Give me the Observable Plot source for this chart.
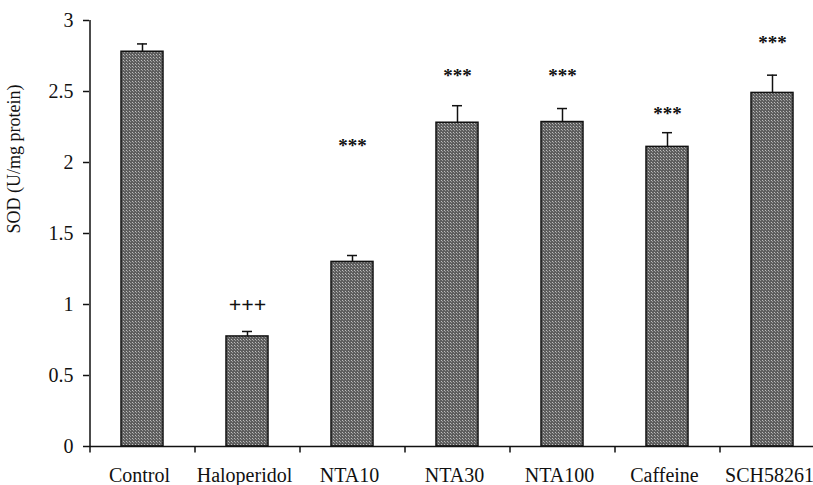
<!DOCTYPE html>
<html>
<head>
<meta charset="utf-8">
<script src="https://cdn.jsdelivr.net/npm/d3@7"></script>
<script src="https://cdn.jsdelivr.net/npm/@observablehq/plot@0.6"></script>
<style>
  html, body { margin: 0; padding: 0; background: #fff; }
</style>
</head>
<body>
<div id="chart"></div>
<script>
const categories = ["Control", "Haloperidol", "NTA10", "NTA30", "NTA100", "Caffeine", "SCH58261"];
const sodMean = [2.78, 0.775, 1.30, 2.28, 2.285, 2.11, 2.49];
const sodSem = [0.055, 0.035, 0.045, 0.12, 0.095, 0.10, 0.125];
const sigLabels = ["", "+++", "***", "***", "***", "***", "***"];
const sigY = [null, 1.0, 2.12, 2.61, 2.61, 2.34, 2.84];
const yTicks = [0, 0.5, 1, 1.5, 2, 2.5, 3];
const yLabel = "SOD (U/mg protein)";

const data = categories.map((c, i) => ({cat: c, mean: sodMean[i], sem: sodSem[i], sig: sigLabels[i], sigY: sigY[i]}));
const sigData = data.filter(d => d.sig);

const svg = Plot.plot({
  width: 813,
  height: 485,
  marginLeft: 89,
  marginRight: 0,
  marginTop: 20,
  marginBottom: 39,
  style: {fontFamily: "'Liberation Serif', 'Times New Roman', serif", fontSize: "20px", color: "#111", background: "#fff", overflow: "visible"},
  x: {domain: categories, range: [89, 824], paddingInner: 0.6, paddingOuter: 0.3},
  y: {domain: [0, 3], range: [446, 20]},
  marks: [
    Plot.barY(data, {x: "cat", y: "mean", fill: "url(#dots)", stroke: "#111", strokeWidth: 1.5}),
    Plot.ruleX(data, {x: "cat", y1: "mean", y2: d => d.mean + d.sem, stroke: "#111", strokeWidth: 1.5}),
    Plot.tickY(data, {x: "cat", y: d => d.mean + d.sem, stroke: "#111", strokeWidth: 1.5, insetLeft: 16, insetRight: 16}),
    Plot.text(sigData, {x: "cat", y: "sigY", text: "sig", fontWeight: "bold", fontSize: d => d.sig === "+++" ? 22 : 19, fill: "#111"}),
    Plot.ruleY([0], {stroke: "#111", strokeWidth: 1.5}),
    Plot.ruleX([categories[0]], {x: d => d, dx: -52.5, y1: 0, y2: 3, stroke: "#111", strokeWidth: 1.5}),
    Plot.ruleX(categories, {x: d => d, dx: -52.5, y1: 0, y2: -0.045, stroke: "#111", strokeWidth: 1.5}),
    Plot.axisY({ticks: yTicks, tickSize: 6, tickPadding: 10, tickFormat: d => String(d), label: null, strokeWidth: 1.5, fontSize: 20}),
    Plot.axisX({tickSize: 0, tickPadding: 21, label: null, fontSize: 20, dx: -3}),
    Plot.text([yLabel], {frameAnchor: "left", rotate: -90, dx: -75, fontSize: 18, fill: "#111"})
  ]
});

const defs = d3.select(svg).insert("defs", ":first-child");
const pat = defs.append("pattern").attr("id", "dots").attr("width", 3).attr("height", 3).attr("patternUnits", "userSpaceOnUse");
pat.append("rect").attr("width", 3).attr("height", 3).attr("fill", "#5e5e5e").attr("shape-rendering", "crispEdges");
pat.append("rect").attr("x", 0).attr("y", 0).attr("width", 1).attr("height", 1).attr("fill", "#bdbdbd").attr("shape-rendering", "crispEdges");
pat.append("rect").attr("x", 1).attr("y", 1).attr("width", 1).attr("height", 1).attr("fill", "#9a9a9a").attr("shape-rendering", "crispEdges");

document.getElementById("chart").appendChild(svg);
</script>
</body>
</html>
